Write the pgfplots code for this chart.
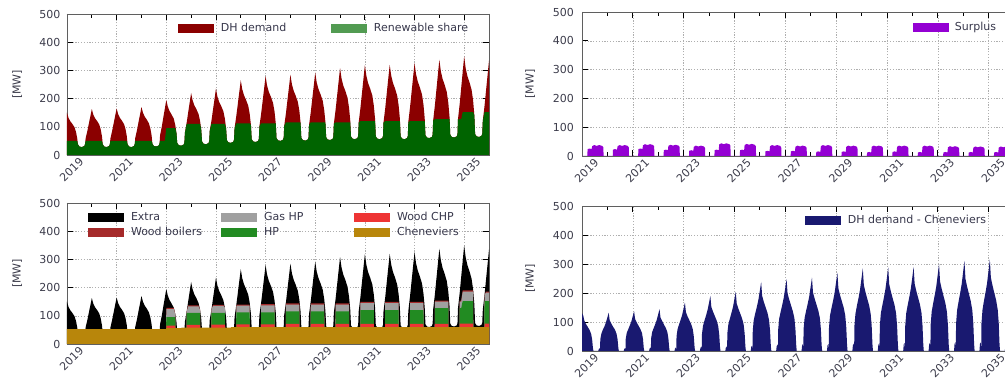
\documentclass[border=0pt]{standalone}
\usepackage{fontspec}
\setmainfont{DejaVu Sans}
\usepackage{pgfplots}
\usepackage{pgfplotstable}
\pgfplotsset{compat=1.18}
\definecolor{dhred}{RGB}{139,0,0}
\definecolor{rgreen}{RGB}{0,100,0}
\definecolor{rlegend}{RGB}{82,155,82}
\definecolor{surp}{RGB}{148,0,211}
\definecolor{navyb}{RGB}{25,25,112}
\definecolor{gashp}{RGB}{160,160,160}
\definecolor{woodchp}{RGB}{238,52,52}
\definecolor{woodb}{RGB}{165,42,42}
\definecolor{hpc}{RGB}{34,139,34}
\definecolor{chen}{RGB}{184,134,11}
\definecolor{gridc}{RGB}{175,175,175}
\definecolor{framec}{RGB}{95,95,95}
\definecolor{tickc}{RGB}{60,60,75}
\definecolor{legc}{RGB}{55,55,75}

\pgfplotstableread{
t D R
2019.00 150 50
2019.06 132 50
2019.13 120 50
2019.21 111 50
2019.30 99 50
2019.36 83 50
2019.41 60 50
2019.44 38 38
2019.50 30 30
2019.60 28 28
2019.70 32 32
2019.73 40 40
2019.75 59 50
2019.82 85 50
2019.88 111 50
2019.94 137 50
2020.00 163 50
2020.06 143 50
2020.13 130 50
2020.21 121 50
2020.30 108 50
2020.36 90 50
2020.41 65 50
2020.44 38 38
2020.50 30 30
2020.60 28 28
2020.70 32 32
2020.73 40 40
2020.75 59 50
2020.82 86 50
2020.88 112 50
2020.94 139 50
2021.00 165 50
2021.06 145 50
2021.13 132 50
2021.21 122 50
2021.30 109 50
2021.36 91 50
2021.41 66 50
2021.44 38 38
2021.50 30 30
2021.60 28 28
2021.70 32 32
2021.73 40 40
2021.75 61 50
2021.82 88 50
2021.88 116 50
2021.94 143 50
2022.00 170 50
2022.06 150 50
2022.13 136 50
2022.21 126 50
2022.30 112 50
2022.36 94 50
2022.41 68 50
2022.44 40 40
2022.50 32 32
2022.60 30 30
2022.70 34 34
2022.73 42 42
2022.75 70 50
2022.82 101 50
2022.88 133 50
2022.94 164 50
2023.00 195 95
2023.06 172 95
2023.13 156 95
2023.21 144 95
2023.30 129 95
2023.36 107 95
2023.41 78 78
2023.44 43 43
2023.50 35 35
2023.60 33 33
2023.70 37 37
2023.73 45 45
2023.75 79 79
2023.82 114 110
2023.88 150 110
2023.94 185 110
2024.00 220 110
2024.06 194 110
2024.13 176 110
2024.21 163 110
2024.30 145 110
2024.36 121 110
2024.41 88 88
2024.44 48 48
2024.50 40 40
2024.60 38 38
2024.70 42 42
2024.73 50 50
2024.75 85 85
2024.82 122 110
2024.88 160 110
2024.94 197 110
2025.00 235 110
2025.06 207 110
2025.13 188 110
2025.21 174 110
2025.30 155 110
2025.36 129 110
2025.41 94 94
2025.44 53 53
2025.50 45 45
2025.60 43 43
2025.70 47 47
2025.73 55 55
2025.75 95 95
2025.82 138 112
2025.88 180 112
2025.94 223 112
2026.00 265 112
2026.06 233 112
2026.13 212 112
2026.21 196 112
2026.30 175 112
2026.36 146 112
2026.41 106 106
2026.44 56 56
2026.50 48 48
2026.60 46 46
2026.70 50 50
2026.73 58 58
2026.75 101 101
2026.82 146 112
2026.88 190 112
2026.94 235 112
2027.00 280 112
2027.06 246 112
2027.13 224 112
2027.21 207 112
2027.30 185 112
2027.36 154 112
2027.41 112 112
2027.44 60 60
2027.50 52 52
2027.60 50 50
2027.70 54 54
2027.73 62 62
2027.75 103 103
2027.82 148 116
2027.88 194 116
2027.94 239 116
2028.00 285 116
2028.06 251 116
2028.13 228 116
2028.21 211 116
2028.30 188 116
2028.36 157 116
2028.41 114 114
2028.44 61 61
2028.50 53 53
2028.60 51 51
2028.70 55 55
2028.73 63 63
2028.75 105 105
2028.82 152 116
2028.88 199 116
2028.94 245 116
2029.00 292 116
2029.06 257 116
2029.13 234 116
2029.21 216 116
2029.30 193 116
2029.36 161 116
2029.41 117 116
2029.44 63 63
2029.50 55 55
2029.60 53 53
2029.70 57 57
2029.73 65 65
2029.75 111 111
2029.82 160 116
2029.88 209 116
2029.94 259 116
2030.00 308 116
2030.06 271 116
2030.13 246 116
2030.21 228 116
2030.30 203 116
2030.36 169 116
2030.41 123 116
2030.44 66 66
2030.50 58 58
2030.60 56 56
2030.70 60 60
2030.73 68 68
2030.75 115 115
2030.82 166 120
2030.88 217 120
2030.94 268 120
2031.00 319 120
2031.06 281 120
2031.13 255 120
2031.21 236 120
2031.30 211 120
2031.36 175 120
2031.41 128 120
2031.44 66 66
2031.50 58 58
2031.60 56 56
2031.70 60 60
2031.73 68 68
2031.75 115 115
2031.82 166 120
2031.88 218 120
2031.94 269 120
2032.00 320 120
2032.06 282 120
2032.13 256 120
2032.21 237 120
2032.30 211 120
2032.36 176 120
2032.41 128 120
2032.44 66 66
2032.50 58 58
2032.60 56 56
2032.70 60 60
2032.73 68 68
2032.75 117 117
2032.82 170 120
2032.88 222 120
2032.94 274 120
2033.00 326 120
2033.06 287 120
2033.13 261 120
2033.21 241 120
2033.30 215 120
2033.36 179 120
2033.41 130 120
2033.44 70 70
2033.50 62 62
2033.60 60 60
2033.70 64 64
2033.73 72 72
2033.75 122 122
2033.82 176 127
2033.88 230 127
2033.94 284 127
2034.00 338 127
2034.06 297 127
2034.13 270 127
2034.21 250 127
2034.30 223 127
2034.36 186 127
2034.41 135 127
2034.44 72 72
2034.50 64 64
2034.60 62 62
2034.70 66 66
2034.73 74 74
2034.75 126 126
2034.82 182 127
2034.88 238 127
2034.94 294 152
2035.00 350 152
2035.06 308 152
2035.13 280 152
2035.21 259 152
2035.30 231 152
2035.36 193 152
2035.41 140 140
2035.44 74 74
2035.50 66 66
2035.60 64 64
2035.70 68 68
2035.73 76 76
2035.75 121 121
2035.82 174 152
2035.88 228 152
2035.94 281 152
2036.00 335 152
}\dem

\pgfplotstableread{
t B
2019.00 131
2019.05 122
2019.09 105
2019.15 94
2019.22 84
2019.30 72
2019.36 59
2019.40 39
2019.43 10
2019.45 0
2019.55 0
2019.64 0
2019.66 6
2019.69 10
2019.71 3
2019.72 40
2019.76 59
2019.82 73
2019.88 84
2019.94 98
2020.00 116
2020.05 132
2020.09 106
2020.15 95
2020.22 84
2020.30 73
2020.36 59
2020.40 40
2020.43 11
2020.45 0
2020.55 0
2020.64 0
2020.66 6
2020.69 10
2020.71 3
2020.72 41
2020.76 62
2020.82 75
2020.88 88
2020.94 101
2021.00 121
2021.05 137
2021.09 110
2021.15 99
2021.22 88
2021.30 75
2021.36 62
2021.40 41
2021.43 11
2021.45 0
2021.55 0
2021.64 0
2021.66 8
2021.69 12
2021.71 3
2021.72 43
2021.76 65
2021.82 79
2021.88 92
2021.94 107
2022.00 127
2022.05 144
2022.09 115
2022.15 104
2022.22 92
2022.30 79
2022.36 65
2022.40 43
2022.43 12
2022.45 0
2022.55 0
2022.64 0
2022.66 8
2022.69 12
2022.71 3
2022.72 50
2022.76 75
2022.82 92
2022.88 107
2022.94 124
2023.00 147
2023.05 167
2023.09 134
2023.15 120
2023.22 107
2023.30 92
2023.36 75
2023.40 50
2023.43 13
2023.45 0
2023.55 0
2023.64 0
2023.66 10
2023.69 14
2023.71 4
2023.72 57
2023.76 86
2023.82 105
2023.88 122
2023.94 141
2024.00 167
2024.05 190
2024.09 152
2024.15 137
2024.22 122
2024.30 105
2024.36 86
2024.40 57
2024.43 15
2024.45 0
2024.55 0
2024.64 0
2024.66 12
2024.69 16
2024.71 4
2024.72 61
2024.76 92
2024.82 112
2024.88 131
2024.94 151
2025.00 180
2025.05 204
2025.09 163
2025.15 147
2025.22 131
2025.30 112
2025.36 92
2025.40 61
2025.43 16
2025.45 0
2025.55 0
2025.64 0
2025.66 14
2025.69 18
2025.71 5
2025.72 71
2025.76 107
2025.82 131
2025.88 152
2025.94 176
2026.00 209
2026.05 238
2026.09 190
2026.15 171
2026.22 152
2026.30 131
2026.36 107
2026.40 71
2026.43 19
2026.45 0
2026.55 0
2026.64 0
2026.66 16
2026.69 22
2026.71 5
2026.72 74
2026.76 112
2026.82 136
2026.88 159
2026.94 184
2027.00 218
2027.05 248
2027.09 198
2027.15 179
2027.22 159
2027.30 136
2027.36 112
2027.40 74
2027.43 20
2027.45 0
2027.55 0
2027.64 0
2027.66 18
2027.69 24
2027.71 5
2027.72 76
2027.76 114
2027.82 139
2027.88 162
2027.94 187
2028.00 223
2028.05 253
2028.09 202
2028.15 182
2028.22 162
2028.30 139
2028.36 114
2028.40 76
2028.43 20
2028.45 0
2028.55 0
2028.64 0
2028.66 18
2028.69 24
2028.71 5
2028.72 81
2028.76 122
2028.82 149
2028.88 173
2028.94 200
2029.00 238
2029.05 270
2029.09 216
2029.15 194
2029.22 173
2029.30 149
2029.36 122
2029.40 81
2029.43 22
2029.45 0
2029.55 0
2029.64 0
2029.66 20
2029.69 26
2029.71 5
2029.72 86
2029.76 128
2029.82 157
2029.88 182
2029.94 211
2030.00 251
2030.05 285
2030.09 228
2030.15 205
2030.22 182
2030.30 157
2030.36 128
2030.40 86
2030.43 23
2030.45 0
2030.55 0
2030.64 0
2030.66 20
2030.69 26
2030.71 5
2030.72 86
2030.76 130
2030.82 158
2030.88 184
2030.94 213
2031.00 253
2031.05 288
2031.09 230
2031.15 207
2031.22 184
2031.30 158
2031.36 130
2031.40 86
2031.43 23
2031.45 0
2031.55 0
2031.64 0
2031.66 22
2031.69 28
2031.71 5
2031.72 87
2031.76 131
2031.82 160
2031.88 186
2031.94 215
2032.00 255
2032.05 290
2032.09 232
2032.15 209
2032.22 186
2032.30 160
2032.36 131
2032.40 87
2032.43 23
2032.45 0
2032.55 0
2032.64 0
2032.66 22
2032.69 28
2032.71 5
2032.72 90
2032.76 135
2032.82 165
2032.88 192
2032.94 222
2033.00 264
2033.05 300
2033.09 240
2033.15 216
2033.22 192
2033.30 165
2033.36 135
2033.40 90
2033.43 24
2033.45 0
2033.55 0
2033.64 0
2033.66 24
2033.69 30
2033.71 6
2033.72 93
2033.76 140
2033.82 171
2033.88 199
2033.94 230
2034.00 274
2034.05 311
2034.09 249
2034.15 224
2034.22 199
2034.30 171
2034.36 140
2034.40 93
2034.43 25
2034.45 0
2034.55 0
2034.64 0
2034.66 24
2034.69 30
2034.71 6
2034.72 95
2034.76 142
2034.82 174
2034.88 202
2034.94 234
2035.00 278
2035.05 316
2035.09 253
2035.15 228
2035.22 202
2035.30 174
2035.36 142
2035.40 95
2035.43 25
2035.45 0
2035.55 0
2035.64 0
2035.66 24
2035.69 30
2035.71 6
2035.72 90
2035.76 135
2035.82 165
2035.88 192
2035.94 222
2036.00 264
}\dhc

\pgfplotstableread{
t S
2019.00 0
2019.21 0
2019.22 24
2019.30 26
2019.38 24
2019.40 34
2019.48 38
2019.58 35
2019.68 38
2019.80 35
2019.84 30
2019.85 0
2020.21 0
2020.22 22
2020.30 24
2020.38 22
2020.40 34
2020.48 38
2020.58 35
2020.68 38
2020.80 35
2020.84 30
2020.85 0
2021.21 0
2021.22 24
2021.30 26
2021.38 24
2021.40 37
2021.48 41
2021.58 38
2021.68 41
2021.80 38
2021.84 33
2021.85 0
2022.21 0
2022.22 20
2022.30 22
2022.38 20
2022.40 35
2022.48 39
2022.58 36
2022.68 39
2022.80 36
2022.84 31
2022.85 0
2023.21 0
2023.22 18
2023.30 20
2023.38 18
2023.40 32
2023.48 36
2023.58 33
2023.68 36
2023.80 33
2023.84 28
2023.85 0
2024.21 0
2024.22 20
2024.30 22
2024.38 20
2024.40 40
2024.48 44
2024.58 41
2024.68 44
2024.80 41
2024.84 36
2024.85 0
2025.21 0
2025.22 20
2025.30 22
2025.38 20
2025.40 38
2025.48 42
2025.58 39
2025.68 42
2025.80 39
2025.84 34
2025.85 0
2026.21 0
2026.22 16
2026.30 18
2026.38 16
2026.40 34
2026.48 38
2026.58 35
2026.68 38
2026.80 35
2026.84 30
2026.85 0
2027.21 0
2027.22 16
2027.30 18
2027.38 16
2027.40 32
2027.48 36
2027.58 33
2027.68 36
2027.80 33
2027.84 28
2027.85 0
2028.21 0
2028.22 14
2028.30 16
2028.38 14
2028.40 34
2028.48 38
2028.58 35
2028.68 38
2028.80 35
2028.84 30
2028.85 0
2029.21 0
2029.22 14
2029.30 16
2029.38 14
2029.40 32
2029.48 36
2029.58 33
2029.68 36
2029.80 33
2029.84 28
2029.85 0
2030.21 0
2030.22 12
2030.30 14
2030.38 12
2030.40 32
2030.48 36
2030.58 33
2030.68 36
2030.80 33
2030.84 28
2030.85 0
2031.21 0
2031.22 14
2031.30 16
2031.38 14
2031.40 32
2031.48 36
2031.58 33
2031.68 36
2031.80 33
2031.84 28
2031.85 0
2032.21 0
2032.22 12
2032.30 14
2032.38 12
2032.40 32
2032.48 36
2032.58 33
2032.68 36
2032.80 33
2032.84 28
2032.85 0
2033.21 0
2033.22 12
2033.30 14
2033.38 12
2033.40 30
2033.48 34
2033.58 31
2033.68 34
2033.80 31
2033.84 26
2033.85 0
2034.21 0
2034.22 12
2034.30 14
2034.38 12
2034.40 29
2034.48 33
2034.58 30
2034.68 33
2034.80 30
2034.84 25
2034.85 0
2035.21 0
2035.22 12
2035.30 14
2035.38 12
2035.40 29
2035.48 33
2035.58 30
2035.68 33
2035.80 30
2035.84 25
2035.85 0
2036.00 0
}\surplus

\pgfplotsset{
  myax/.style={
    scale only axis,
    xmin=2019, xmax=2036, ymin=0, ymax=500,
    xtick={2019,2021,2023,2025,2027,2029,2031,2033,2035},
    xticklabels={2019,2021,2023,2025,2027,2029,2031,2033,2035},
    minor xtick={2020,2022,2024,2026,2028,2030,2032,2034,2036},
    ytick={0,100,200,300,400,500},
    grid=major,
    major grid style={gridc, dash pattern=on 1.2pt off 1.6pt, line width=0.5pt},
    axis line style={framec, line width=0.8pt},
    tick style={black, line width=0.8pt},
    major tick length=6pt, minor tick length=4pt,
    tick label style={font=\fontsize{11}{12}\selectfont, text=tickc},
    x tick label style={xshift=15pt, yshift=-4pt, rotate=45, anchor=east, inner sep=0.6pt},
    ylabel={[MW]},
    ylabel style={font=\fontsize{11}{12}\selectfont, text=tickc, anchor=center},
    /pgf/number format/assume math mode=true,
    legend image code/.code={\fill[##1] (0pt,-4.5pt) rectangle (36pt,4.5pt);},
    legend style={draw=none, fill=none, inner sep=0pt, outer sep=0pt,
      font=\fontsize{11}{12}\selectfont, text=legc, nodes={inner sep=0pt},
      row sep=5pt, column sep=0pt, anchor=north west},
  },
}

\begin{document}
\begin{tikzpicture}
\path[use as bounding box] (0,0) rectangle (1005pt,378pt);
\clip (0,0) rectangle (1005pt,378pt);

% top left
\begin{axis}[myax, at={(67pt,223pt)}, anchor=south west, width=422pt, height=141pt,
  yticklabel style={xshift=-3pt},
  ylabel style={at={(axis description cs:-0.118,0.5)}},
  legend columns=2,
  legend style={at={(axis description cs:0.263,0.933)}}]
\addplot[fill=dhred, draw=none, forget plot] table[x=t,y=D]{\dem} \closedcycle;
\addplot[fill=rgreen, draw=none, forget plot] table[x=t,y=R]{\dem} \closedcycle;
\addlegendimage{fill=dhred, draw=none}
\addlegendentry{\hspace{7pt}\makebox[110pt][l]{DH demand}}
\addlegendimage{fill=rlegend, draw=none}
\addlegendentry{\hspace{7pt}\makebox[100pt][l]{Renewable share}}
\end{axis}

% top right
\begin{axis}[myax, at={(582pt,222pt)}, anchor=south west, width=432pt, height=144pt,
  yticklabel style={xshift=-4.5pt},
  ylabel style={at={(axis description cs:-0.12,0.5)}},
  legend style={at={(axis description cs:0.766,0.93)}}]
\addplot[fill=surp, draw=none, forget plot] table[x=t,y=S]{\surplus} \closedcycle;
\addlegendimage{fill=surp, draw=none}
\addlegendentry{\hspace{6pt}\makebox[60pt][l]{Surplus}}
\end{axis}

% bottom left
\begin{axis}[myax, at={(67pt,34pt)}, anchor=south west, width=422pt, height=141pt,
  yticklabel style={xshift=-3pt},
  ylabel style={at={(axis description cs:-0.118,0.5)}},
  legend columns=3,
  legend style={at={(axis description cs:0.0498,0.933)}}]
\addplot[fill=black, draw=none, forget plot] table[x=t,y=D]{\dem} \closedcycle;
% wood boilers (top of stack)
\addplot[fill=woodb, draw=none, forget plot] coordinates {
(2022.99,0)(2023.00,128)(2023.30,128)(2023.36,107)(2023.37,0)
(2023.81,0)(2023.82,114)(2023.88,137)(2024.30,137)(2024.36,121)(2024.37,0)
(2024.81,0)(2024.82,122)(2024.88,139)(2025.30,139)(2025.36,129)(2025.37,0)
(2025.81,0)(2025.82,138)(2025.88,140)(2026.36,140)(2026.37,0)
(2026.81,0)(2026.82,141)(2027.36,141)(2027.37,0)
(2027.81,0)(2027.82,144)(2028.36,144)(2028.37,0)
(2028.81,0)(2028.82,144)(2029.36,144)(2029.37,0)
(2029.81,0)(2029.82,144)(2030.36,144)(2030.37,0)
(2030.81,0)(2030.82,149)(2031.36,149)(2031.37,0)
(2031.81,0)(2031.82,149)(2032.36,149)(2032.37,0)
(2032.81,0)(2032.82,149)(2033.36,149)(2033.37,0)
(2033.81,0)(2033.82,154)(2034.36,154)(2034.37,0)
(2034.81,0)(2034.82,154)(2034.88,154)(2034.94,190)(2035.36,190)(2035.37,0)
(2035.81,0)(2035.82,174)(2035.88,186)(2036.00,186)} \closedcycle;
% gas HP
\addplot[fill=gashp, draw=none, forget plot] coordinates {
(2022.99,0)(2023.00,124)(2023.30,124)(2023.36,107)(2023.37,0)
(2023.81,0)(2023.82,114)(2023.88,133)(2024.30,133)(2024.36,121)(2024.37,0)
(2024.81,0)(2024.82,122)(2024.88,135)(2025.30,135)(2025.36,129)(2025.37,0)
(2025.81,0)(2025.82,136)(2026.36,136)(2026.37,0)
(2026.81,0)(2026.82,137)(2027.36,137)(2027.37,0)
(2027.81,0)(2027.82,140)(2028.36,140)(2028.37,0)
(2028.81,0)(2028.82,140)(2029.36,140)(2029.37,0)
(2029.81,0)(2029.82,140)(2030.36,140)(2030.37,0)
(2030.81,0)(2030.82,145)(2031.36,145)(2031.37,0)
(2031.81,0)(2031.82,145)(2032.36,145)(2032.37,0)
(2032.81,0)(2032.82,145)(2033.36,145)(2033.37,0)
(2033.81,0)(2033.82,150)(2034.36,150)(2034.37,0)
(2034.81,0)(2034.82,150)(2034.88,150)(2034.94,186)(2035.36,186)(2035.37,0)
(2035.81,0)(2035.82,174)(2035.88,182)(2036.00,182)} \closedcycle;
% HP
\addplot[fill=hpc, draw=none, forget plot] coordinates {
(2022.99,0)(2023.00,95)(2023.36,95)(2023.37,0)
(2023.81,0)(2023.82,110)(2024.36,110)(2024.37,0)
(2024.81,0)(2024.82,110)(2025.36,110)(2025.37,0)
(2025.81,0)(2025.82,112)(2026.36,112)(2026.37,0)
(2026.81,0)(2026.82,112)(2027.36,112)(2027.37,0)
(2027.81,0)(2027.82,116)(2028.36,116)(2028.37,0)
(2028.81,0)(2028.82,116)(2029.36,116)(2029.37,0)
(2029.81,0)(2029.82,116)(2030.36,116)(2030.37,0)
(2030.81,0)(2030.82,120)(2031.36,120)(2031.37,0)
(2031.81,0)(2031.82,120)(2032.36,120)(2032.37,0)
(2032.81,0)(2032.82,120)(2033.36,120)(2033.37,0)
(2033.81,0)(2033.82,127)(2034.36,127)(2034.37,0)
(2034.81,0)(2034.82,127)(2034.88,127)(2034.94,152)(2035.36,152)(2035.37,0)
(2035.81,0)(2035.82,152)(2036.00,152)} \closedcycle;
% wood CHP
\addplot[fill=woodchp, draw=none, forget plot] coordinates {
(2022.99,0)(2023.00,65)(2023.36,65)(2023.37,0)
(2023.81,0)(2023.82,68)(2024.36,68)(2024.37,0)
(2024.81,0)(2024.82,69)(2025.36,69)(2025.37,0)
(2025.81,0)(2025.82,70)(2026.36,70)(2026.37,0)
(2026.81,0)(2026.82,70)(2027.36,70)(2027.37,0)
(2027.81,0)(2027.82,71)(2028.36,71)(2028.37,0)
(2028.81,0)(2028.82,71)(2029.36,71)(2029.37,0)
(2029.81,0)(2029.82,71)(2030.36,71)(2030.37,0)
(2030.81,0)(2030.82,71)(2031.36,71)(2031.37,0)
(2031.81,0)(2031.82,71)(2032.36,71)(2032.37,0)
(2032.81,0)(2032.82,71)(2033.36,71)(2033.37,0)
(2033.81,0)(2033.82,71)(2034.36,71)(2034.37,0)
(2034.81,0)(2034.82,72)(2035.36,72)(2035.37,0)
(2035.81,0)(2035.82,72)(2036.00,72)} \closedcycle;
% Cheneviers
\addplot[fill=chen, draw=none, forget plot] coordinates {
(2019.00,53)(2022.99,53)(2023.00,56)(2023.60,56)(2023.61,58)(2025.60,58)(2025.61,60)(2036.00,60)} \closedcycle;
\addlegendimage{fill=black, draw=none}
\addlegendentry{\hspace{7pt}\makebox[90pt][l]{Extra}}
\addlegendimage{fill=gashp, draw=none}
\addlegendentry{\hspace{7pt}\makebox[90pt][l]{Gas HP}}
\addlegendimage{fill=woodchp, draw=none}
\addlegendentry{\hspace{7pt}\makebox[90pt][l]{Wood CHP}}
\addlegendimage{fill=woodb, draw=none}
\addlegendentry{\hspace{7pt}\makebox[90pt][l]{Wood boilers}}
\addlegendimage{fill=hpc, draw=none}
\addlegendentry{\hspace{7pt}\makebox[90pt][l]{HP}}
\addlegendimage{fill=chen, draw=none}
\addlegendentry{\hspace{7pt}\makebox[90pt][l]{Cheneviers}}
\end{axis}

% bottom right
\begin{axis}[myax, at={(582pt,27pt)}, anchor=south west, width=432pt, height=145pt,
  yticklabel style={xshift=-4.5pt},
  ylabel style={at={(axis description cs:-0.12,0.5)}},
  legend style={at={(axis description cs:0.516,0.934)}}]
\addplot[fill=navyb, draw=none, forget plot] table[x=t,y=B]{\dhc} \closedcycle;
\addlegendimage{fill=navyb, draw=none}
\addlegendentry{\hspace{7pt}\makebox[160pt][l]{DH demand - Cheneviers}}
\end{axis}
\end{tikzpicture}
\end{document}
